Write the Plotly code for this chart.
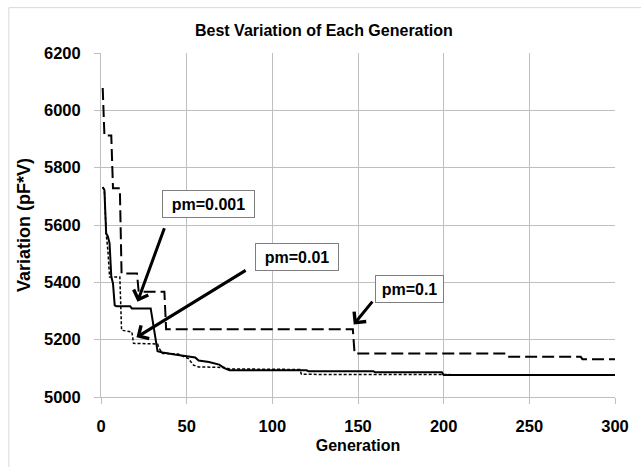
import plotly.graph_objects as go

# Best variation (pF*V) per generation for three mutation probabilities.
# Each list holds the generations where the best value changes and the value there.
gen_pm0001 = [1, 2, 3, 4, 5, 6, 7, 8, 9, 17, 18, 29, 33, 36, 43, 51, 55, 57, 63, 69, 72, 75,
              120, 121, 159, 160, 199, 200, 300]
var_pm0001 = [5732, 5722, 5571, 5560, 5536, 5420, 5396, 5320, 5317, 5317, 5309, 5309, 5160,
              5155, 5148, 5142, 5138, 5127, 5122, 5113, 5101, 5093,
              5093, 5090, 5090, 5086, 5086, 5077, 5077]

gen_pm001 = [1, 2, 3, 4, 5, 11, 12, 18, 19, 33, 34, 36, 45, 51, 54, 57, 72, 75, 116, 117, 300]
var_pm001 = [5732, 5722, 5571, 5513, 5419, 5419, 5233, 5227, 5187, 5185, 5169, 5152, 5150,
             5134, 5111, 5105, 5103, 5098, 5096, 5079, 5077]

gen_pm01 = [1, 2, 6, 7, 11, 12, 21, 22, 37, 38, 147, 148, 236, 237, 280, 281, 300]
var_pm01 = [6078, 5912, 5912, 5728, 5728, 5431, 5431, 5367, 5367, 5236, 5236, 5152, 5152,
            5140, 5140, 5132, 5132]

x_ticks = [0, 50, 100, 150, 200, 250, 300]
y_ticks = [5000, 5200, 5400, 5600, 5800, 6000, 6200]

# Callouts: label, label centre (gen, value), arrow tail and arrow tip (gen, value), box width
callouts = [
    ("pm=0.001", 62.7, 5674, 37.3, 5594, 21.3, 5332, 91),
    ("pm=0.01", 114.5, 5489, 85.3, 5445, 20.7, 5208, 82),
    ("pm=0.1", 180.3, 5377, 159.1, 5338, 147.5, 5253, 67),
]

FONT = "Liberation Sans"
GRID = "#bfbfbf"

fig = go.Figure()
fig.add_trace(go.Scatter(x=gen_pm0001, y=var_pm0001, mode="lines", name="pm=0.001",
                         line=dict(color="black", width=2)))
fig.add_trace(go.Scatter(x=gen_pm001, y=var_pm001, mode="lines", name="pm=0.01",
                         line=dict(color="black", width=1.5, dash="3px,2px")))
fig.add_trace(go.Scatter(x=gen_pm01, y=var_pm01, mode="lines", name="pm=0.1",
                         line=dict(color="black", width=2, dash="12px,5px")))

for text, lx, ly, tx, ty, hx, hy, w in callouts:
    fig.add_annotation(x=hx, y=hy, ax=tx, ay=ty, xref="x", yref="y", axref="x", ayref="y",
                       text="", showarrow=True, arrowhead=4, arrowsize=1.0,
                       arrowwidth=3, arrowcolor="black", standoff=0)
    fig.add_annotation(x=lx, y=ly, xref="x", yref="y", text=text, showarrow=False,
                       font=dict(family=FONT, size=16, color="black", weight="bold"),
                       bgcolor="white", bordercolor="#7f7f7f", borderwidth=1,
                       width=w - 2, height=24, align="center", valign="middle")

# chart-area frame
fig.add_shape(type="rect", xref="paper", yref="paper",
              x0=-0.1793, y0=-0.25, x1=1.06, y1=1.1319,
              line=dict(color="#d9d9d9", width=1), layer="below")

fig.update_layout(
    width=641, height=467,
    margin=dict(l=101, r=19, t=53, b=70),
    paper_bgcolor="white", plot_bgcolor="white",
    showlegend=False,
    title=dict(text="Best Variation of Each Generation", x=0.4337, xref="paper",
               xanchor="center", y=1 - 30.6 / 467, yanchor="middle",
               font=dict(family=FONT, size=16, color="black", weight="bold")),
    font=dict(family=FONT, color="black"),
)
fig.update_xaxes(range=[0, 300], tickvals=x_ticks, showgrid=True, gridcolor=GRID,
                 gridwidth=1, showline=True, linecolor=GRID, linewidth=1, mirror=False,
                 ticks="outside", ticklen=6, tickcolor=GRID, ticklabelstandoff=8,
                 tickfont=dict(family=FONT, size=16.5, color="black", weight="bold"),
                 zeroline=False,
                 title=dict(text="Generation", standoff=6,
                            font=dict(family=FONT, size=16, color="black", weight="bold")))
fig.update_yaxes(range=[5000, 6200], tickvals=y_ticks, showgrid=True, gridcolor=GRID,
                 gridwidth=1, showline=True, linecolor=GRID, linewidth=1,
                 ticks="outside", ticklen=6, tickcolor=GRID, ticklabelstandoff=10,
                 tickfont=dict(family=FONT, size=16.5, color="black", weight="bold"),
                 zeroline=False,
                 title=dict(text="Variation (pF*V)", standoff=8,
                            font=dict(family=FONT, size=18, color="black", weight="bold")))

fig.write_html("out.html")
